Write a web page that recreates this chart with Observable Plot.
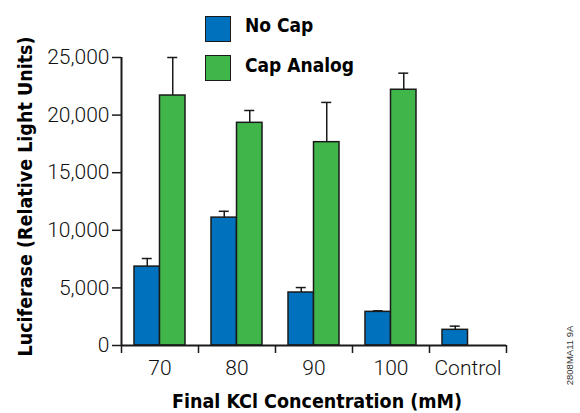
<!DOCTYPE html>
<html>
<head>
<meta charset="utf-8">
<script src="https://cdn.jsdelivr.net/npm/d3@7"></script>
<script src="https://cdn.jsdelivr.net/npm/@observablehq/plot@0.6"></script>
<style>
  html, body { margin: 0; padding: 0; background: #fff; }
  #wrap { position: relative; width: 580px; height: 413px; }
  .cond { font-family: "DejaVu Sans Condensed", "DejaVu Sans", sans-serif; font-stretch: condensed; font-weight: bold; }
  #legend { position: absolute; left: 0; top: 0; }
  .sw { position: absolute; width: 24px; height: 24px; border: 1.5px solid #1a1a1a; }
  .lt { position: absolute; font-size: 19px; line-height: 1; color: #000; white-space: nowrap; }
</style>
</head>
<body>
<div id="wrap">
  <div id="chart"></div>
  <div id="legend" class="cond"></div>
</div>
<script>
// ---- data ----
const categories = ["70", "80", "90", "100", "Control"];
const seriesNames = ["No Cap", "Cap Analog"];
const noCap =        [6850, 11100, 4600, 2920, 1360];
const noCapErr =     [700,   550,   430,   90,  320];
const capAnalog =    [21700, 19330, 17650, 22200, null];
const capAnalogErr = [3300,  1070,  3450,  1440, null];
const yTicks = [0, 5000, 10000, 15000, 20000, 25000];
const xTitle = "Final KCl Concentration (mM)";
const yTitle = "Luciferase (Relative Light Units)";
const codeText = "2808MA11 9A";

const colors = ["#0071bc", "#3fb54a"];
const outline = "#1a1a1a";

const rows = categories.map((c, i) => ({
  cat: c,
  noCap: noCap[i], noCapErr: noCapErr[i],
  cap: capAnalog[i], capErr: capAnalogErr[i]
}));
const capRows = rows.filter(d => d.cap != null);

const W = 580, H = 413;
const mL = 121, mR = 74, mT = 57, mB = 68;
const bw = (W - mL - mR) / categories.length;   // band width
const barW = 25.5;
const half = bw / 2;
const inner = half - barW;                      // outer inset
const off = barW / 2;                           // bar centre offset from band centre

const tickFont = "Roboto, 'Liberation Sans', sans-serif";
const condFont = "'DejaVu Sans Condensed', 'DejaVu Sans', sans-serif";

const chart = Plot.plot({
  width: W, height: H,
  marginLeft: mL, marginRight: mR, marginTop: mT, marginBottom: mB,
  style: { fontFamily: tickFont, background: "white", overflow: "visible" },
  x: { type: "band", domain: categories, padding: 0 },
  y: { domain: [0, 25000] },
  marks: [
    Plot.barY(rows, { x: "cat", y: "noCap", fill: colors[0], stroke: outline, strokeWidth: 1.5, insetLeft: inner, insetRight: half }),
    Plot.barY(capRows, { x: "cat", y: "cap", fill: colors[1], stroke: outline, strokeWidth: 1.5, insetLeft: half, insetRight: inner }),
    // error bars
    Plot.ruleX(rows, { x: "cat", y1: "noCap", y2: d => d.noCap + d.noCapErr, dx: -off, stroke: outline, strokeWidth: 1.5 }),
    Plot.tickY(rows, { x: "cat", y: d => d.noCap + d.noCapErr, dx: -off, insetLeft: half - 5, insetRight: half - 5, stroke: outline, strokeWidth: 1.5 }),
    Plot.ruleX(capRows, { x: "cat", y1: "cap", y2: d => d.cap + d.capErr, dx: off, stroke: outline, strokeWidth: 1.5 }),
    Plot.tickY(capRows, { x: "cat", y: d => d.cap + d.capErr, dx: off, insetLeft: half - 5, insetRight: half - 5, stroke: outline, strokeWidth: 1.5 }),
    // axes lines
    Plot.ruleY([0], { stroke: outline, strokeWidth: 2 }),
    Plot.ruleX([categories[0]], { y1: 0, y2: yTicks[yTicks.length - 1], dx: -half, stroke: outline, strokeWidth: 2 }),
    Plot.axisY({ ticks: yTicks, tickFormat: d3.format(","), tickSize: 9, tickPadding: 3, fontSize: 21, fontWeight: 300, label: null, stroke: outline, strokeWidth: 1.5, fill: "#111" }),
    // x labels (centred) and boundary ticks
    Plot.axisX({ ticks: categories, tickSize: 0, tickPadding: 15, fontSize: 21, fontWeight: 300, label: null, fill: "#111" }),
    Plot.axisX({ ticks: categories, tickSize: 8, dx: -half, tickFormat: () => "", fill: "none", label: null, stroke: outline, strokeWidth: 1.5 }),
    Plot.axisX({ ticks: [categories[categories.length - 1]], tickSize: 8, dx: half, tickFormat: () => "", fill: "none", label: null, stroke: outline, strokeWidth: 1.5 }),
    // titles
    Plot.text([xTitle], { text: d => d, frameAnchor: "bottom", textAnchor: "middle", dy: 56, dx: 3, lineAnchor: "middle", fontFamily: condFont, fontWeight: "bold", fontSize: 19.5, fill: "#000" }),
    Plot.text([yTitle], { text: d => d, frameAnchor: "left", textAnchor: "middle", rotate: -90, dx: -96, dy: -5, lineAnchor: "middle", fontFamily: condFont, fontWeight: "bold", fontSize: 19.5, fill: "#000" }),
    Plot.text([codeText], { text: d => d, frameAnchor: "right", textAnchor: "middle", rotate: -90, dx: 63, dy: 154, lineAnchor: "middle", fontFamily: "'Liberation Sans', sans-serif", fontSize: 9.5, fill: "#333" })
  ]
});
document.getElementById("chart").appendChild(chart);

// legend
const legend = document.getElementById("legend");
const legTops = [15.5, 55];
seriesNames.forEach((name, i) => {
  const sw = document.createElement("div");
  sw.className = "sw";
  sw.style.left = "205px";
  sw.style.top = legTops[i] + "px";
  sw.style.background = colors[i];
  legend.appendChild(sw);
  const t = document.createElement("div");
  t.className = "lt";
  t.style.left = "245px";
  t.style.top = (legTops[i] + 0.5) + "px";
  t.textContent = name;
  legend.appendChild(t);
});
</script>
</body>
</html>
